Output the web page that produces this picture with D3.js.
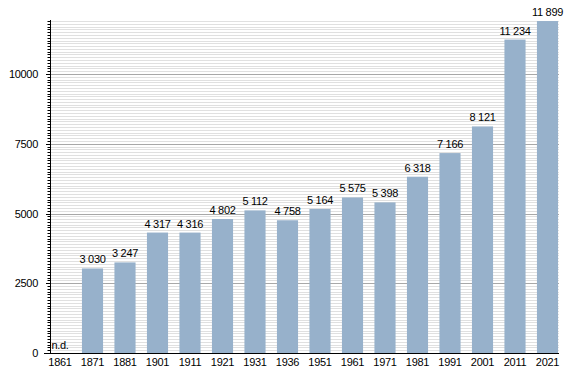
<!DOCTYPE html>
<html>
<head>
<meta charset="utf-8">
<script src="https://cdn.jsdelivr.net/npm/d3@7"></script>
<style>
  body { margin: 0; background: #fff; }
  text { font-family: "Liberation Sans", Arial, sans-serif; font-size: 11px; fill: #000; letter-spacing: -0.3px; }
</style>
</head>
<body>
<script>
// census years and population
var years = ["1861", "1871", "1881", "1901", "1911", "1921", "1931", "1936", "1951",
             "1961", "1971", "1981", "1991", "2001", "2011", "2021"];
var population = [null, 3030, 3247, 4317, 4316, 4802, 5112, 4758, 5164,
                  5575, 5398, 6318, 7166, 8121, 11234, 11899];
var majorTicks = [0, 2500, 5000, 7500, 10000];

var width = 588, height = 373;

var svg = d3.select("body").append("svg")
    .attr("width", width)
    .attr("height", height);

var x = d3.scaleBand()
    .domain(years)
    .range([43.75, 563.75])
    .paddingInner(0.35)
    .paddingOuter(0.175);

var y = d3.scaleLinear()
    .domain([0, 11900])
    .range([353, 21]);

var minor = d3.range(100, 11901, 100).filter(function(v){ return v % 2500 != 0; });

// minor grid lines
svg.selectAll(".minor")
    .data(minor)
    .enter().append("line")
    .attr("x1", 50).attr("x2", 559)
    .attr("y1", function(d){ return Math.round(y(d)) + 0.5; })
    .attr("y2", function(d){ return Math.round(y(d)) + 0.5; })
    .attr("stroke", "#e0e0e0");

// major grid lines
svg.selectAll(".major")
    .data(majorTicks.slice(1))
    .enter().append("line")
    .attr("x1", 50).attr("x2", 559)
    .attr("y1", function(d){ return Math.round(y(d)) + 0.5; })
    .attr("y2", function(d){ return Math.round(y(d)) + 0.5; })
    .attr("stroke", "#a8a8a8");

// bars
var data = years.map(function(d, i){ return {year: d, value: population[i]}; });

svg.selectAll(".bar")
    .data(data.filter(function(d){ return d.value != null; }))
    .enter().append("rect")
    .attr("x", function(d){ return x(d.year); })
    .attr("width", x.bandwidth())
    .attr("y", function(d){ return y(d.value); })
    .attr("height", function(d){ return y(0) - y(d.value); })
    .attr("fill", "#97b1cb");

// value labels, space as thousands separator
var fmt = function(v){ return d3.format(",")(v).replace(",", " "); };
svg.selectAll(".lbl")
    .data(data)
    .enter().append("text")
    .attr("x", function(d){ return x(d.year) + x.bandwidth() / 2; })
    .attr("y", function(d){ return d.value == null ? y(0) - 4 : y(d.value) - 5; })
    .attr("text-anchor", "middle")
    .text(function(d){ return d.value == null ? "n.d." : fmt(d.value); });

// y axis ticks
svg.selectAll(".ytick")
    .data(d3.range(0, 11901, 100))
    .enter().append("line")
    .attr("x1", function(d){ return d % 2500 == 0 ? 46 : 47.5; })
    .attr("x2", 50)
    .attr("y1", function(d){ return Math.round(y(d)) + 0.5; })
    .attr("y2", function(d){ return Math.round(y(d)) + 0.5; })
    .attr("stroke", "#000");

svg.selectAll(".ylab")
    .data(majorTicks)
    .enter().append("text")
    .attr("x", 38)
    .attr("y", function(d){ return y(d) + 4; })
    .attr("text-anchor", "end")
    .text(function(d){ return d; });

// axis lines
svg.append("line")
    .attr("x1", 50.5).attr("x2", 50.5)
    .attr("y1", 20).attr("y2", 354)
    .attr("stroke", "#000");
svg.append("line")
    .attr("x1", 44).attr("x2", 559)
    .attr("y1", 353.5).attr("y2", 353.5)
    .attr("stroke", "#000");

// x labels
svg.selectAll(".xlab")
    .data(years)
    .enter().append("text")
    .attr("x", function(d){ return x(d) + x.bandwidth() / 2; })
    .attr("y", 366)
    .attr("text-anchor", "middle")
    .text(function(d){ return d; });
</script>
</body>
</html>
